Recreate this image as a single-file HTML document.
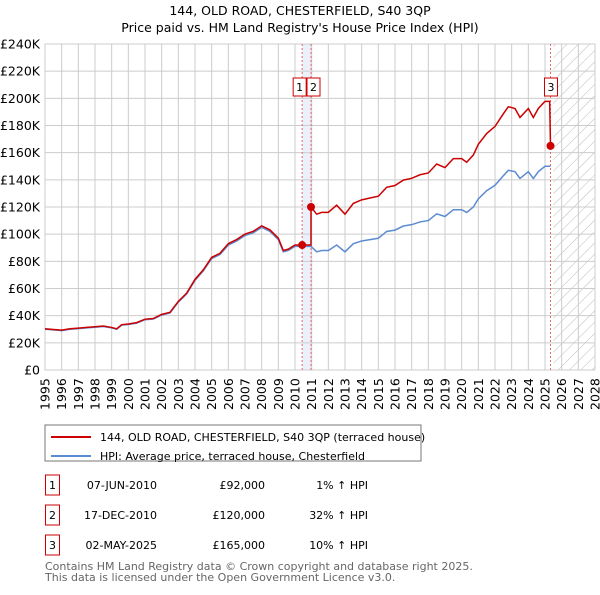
<!DOCTYPE html>
<html><head><meta charset="utf-8"><style>
body{margin:0;background:#fff;font-family:"Liberation Sans","DejaVu Sans",sans-serif;}
svg text{font-family:"DejaVu Sans","Liberation Sans",sans-serif;}
</style></head><body>
<svg id="c" width="600" height="590" xmlns="http://www.w3.org/2000/svg">
<defs><pattern id="hatch" width="8" height="8" patternUnits="userSpaceOnUse" patternTransform="rotate(45)"><line x1="0" y1="0" x2="0" y2="8" stroke="#bbb" stroke-width="1"/></pattern></defs>
<text x="300" y="15" text-anchor="middle" font-size="12.5">144, OLD ROAD, CHESTERFIELD, S40 3QP</text>
<text x="300" y="32" text-anchor="middle" font-size="12.5">Price paid vs. HM Land Registry's House Price Index (HPI)</text>
<g id="grid"></g><g id="marks"></g><g id="axes"></g>
<rect x="45" y="425" width="376" height="36" fill="#fff" stroke="#777"/>
<line x1="51" y1="437" x2="91" y2="437" stroke="#cc0000" stroke-width="2"/>
<text x="100" y="441" font-size="11">144, OLD ROAD, CHESTERFIELD, S40 3QP (terraced house)</text>
<line x1="51" y1="456" x2="91" y2="456" stroke="#5b8bd0" stroke-width="2"/>
<text x="100" y="460" font-size="11">HPI: Average price, terraced house, Chesterfield</text>
<g id="table" font-size="11"></g>
<text x="45" y="570" font-size="11" fill="#666">Contains HM Land Registry data © Crown copyright and database right 2025.</text>
<text x="45" y="581" font-size="11" fill="#666">This data is licensed under the Open Government Licence v3.0.</text>
</svg>
<script>
const hpiYears=[1995,1995.5,1996,1996.5,1997,1997.5,1998,1998.5,1999,1999.3,1999.6,2000,2000.5,2001,2001.5,2002,2002.5,2003,2003.5,2004,2004.5,2005,2005.5,2006,2006.5,2007,2007.5,2008,2008.5,2009,2009.3,2009.6,2010,2010.43,2010.96,2011.3,2011.6,2012,2012.5,2013,2013.5,2014,2014.5,2015,2015.5,2016,2016.5,2017,2017.5,2018,2018.5,2019,2019.5,2020,2020.3,2020.7,2021,2021.5,2022,2022.5,2022.8,2023.2,2023.5,2024,2024.3,2024.6,2025,2025.33];
const hpiValues=[30,29.5,29,30,30.5,31,31.5,32,31,30,33,33.5,34.5,37,37.5,40.5,42,50,56,66,73,82,85,92,95,99,101,105,102,96,87,88,91,91,91,87,88,88,92,87,93,95,96,97,102,103,106,107,109,110,115,113,118,118,116,120,126,132,136,143,147,146,141,146,141,146,150,150];
const saleYears=[2010.43,2010.96,2025.33];
const saleValues=[92,120,165];
const saleLabels=["1","2","3"];
const saleDates=["07-JUN-2010","17-DEC-2010","02-MAY-2025"];
const salePrices=["£92,000","£120,000","£165,000"];
const saleHpi=["1% ↑ HPI","32% ↑ HPI","10% ↑ HPI"];
const yTicks=[0,20,40,60,80,100,120,140,160,180,200,220,240];
const xTicks=[];for(let y=1995;y<=2028;y++)xTicks.push(y);
const X=t=>45+(t-1995)*(550/33), Y=v=>370-v*(326/240);
const NS="http://www.w3.org/2000/svg";
function mk(p,tag,a){const e=document.createElementNS(NS,tag);for(const k in a)e.setAttribute(k,a[k]);p.appendChild(e);return e;}
const G=document.getElementById('grid'),M=document.getElementById('marks'),A=document.getElementById('axes'),T=document.getElementById('table');
let e=mk(G,'rect',{x:X(2025.5),y:Y(240),width:X(2028)-X(2025.5),height:Y(0)-Y(240),fill:'url(#hatch)'});


e=mk(G,'rect',{x:X(saleYears[0]),y:Y(240),width:X(saleYears[1])-X(saleYears[0]),height:Y(0)-Y(240),fill:'#eaf1fb'});


yTicks.forEach(v=>{mk(G,'line',{x1:45,x2:595,y1:Y(v),y2:Y(v),stroke:'#ccc'});
 const t=mk(A,'text',{x:40,y:Y(v)+4.5,'text-anchor':'end','font-size':12.5});t.textContent='£'+(v?v+'K':'0');
 
 });
xTicks.forEach(y=>{mk(G,'line',{x1:X(y),x2:X(y),y1:Y(240),y2:Y(0),stroke:'#ccc'});
 const t=mk(A,'text',{x:0,y:0,transform:`translate(${X(y)+4.5},410) rotate(-90)`,'font-size':12.5});t.textContent=y;
 
 });
mk(G,'rect',{x:45,y:Y(240),width:550,height:Y(0)-Y(240),fill:'none',stroke:'#ccc'});
saleYears.forEach((s,i)=>{const l=mk(M,'line',{x1:X(s),x2:X(s),y1:Y(240),y2:Y(0),stroke:'#e66','stroke-dasharray':'2,2'});
 
 });
const hp=hpiYears.map((t,i)=>X(t)+','+Y(hpiValues[i])).join(' ');
e=mk(M,'polyline',{points:hp,fill:'none',stroke:'#5b8bd0','stroke-width':1.5});


function hpiAt(t){for(let i=1;i<hpiYears.length;i++)if(hpiYears[i]>=t){const f=(t-hpiYears[i-1])/(hpiYears[i]-hpiYears[i-1]);return hpiValues[i-1]+f*(hpiValues[i]-hpiValues[i-1]);}return hpiValues[hpiValues.length-1];}
const r1=saleValues[0]/hpiAt(saleYears[0]),r2=saleValues[1]/hpiAt(saleYears[1]);
const pts=[];
hpiYears.forEach((t,i)=>{if(t<=saleYears[1])pts.push([t,hpiValues[i]*r1]);});
pts.push([saleYears[1],saleValues[1]]);
hpiYears.forEach((t,i)=>{if(t>saleYears[1]&&t<saleYears[2])pts.push([t,hpiValues[i]*r2]);});
pts.push([saleYears[2]-0.05,hpiAt(saleYears[2])*r2]);
pts.push([saleYears[2],saleValues[2]]);
e=mk(M,'polyline',{points:pts.map(p=>X(p[0])+','+Y(p[1])).join(' '),fill:'none',stroke:'#cc0000','stroke-width':1.5});


const lblX=[X(saleYears[0])-6,X(saleYears[1])-6,X(saleYears[2])-6];
saleYears.forEach((s,i)=>{const c=mk(M,'circle',{cx:X(s),cy:Y(saleValues[i]),r:4,fill:'#cc0000'});
 
 
 const g=mk(M,'g',{});
 
 
 const bx=i==0?X(s)-9:X(s)-6+(i==1?2:0);
 mk(g,'rect',{x:bx,y:78,width:13,height:18,fill:'#fff',stroke:'#cc0000'});
 const t=mk(g,'text',{x:bx+6.5,y:91,'text-anchor':'middle','font-size':11});t.textContent=saleLabels[i];
 const ry=488+i*30;
 const r=mk(T,'rect',{x:45.5,y:ry-13,width:14,height:20,fill:'none',stroke:'#cc0000'});
 
 
 const a=mk(T,'text',{x:52.5,y:ry+1,'text-anchor':'middle'});a.textContent=saleLabels[i];
 const d=mk(T,'text',{x:157,y:ry+1,'text-anchor':'end'});d.textContent=saleDates[i];
 
 
 const p=mk(T,'text',{x:265,y:ry+1,'text-anchor':'end'});p.textContent=salePrices[i];
 
 
 const h=mk(T,'text',{x:368,y:ry+1,'text-anchor':'end'});h.textContent=saleHpi[i];
 
 });
</script>
</body></html>
